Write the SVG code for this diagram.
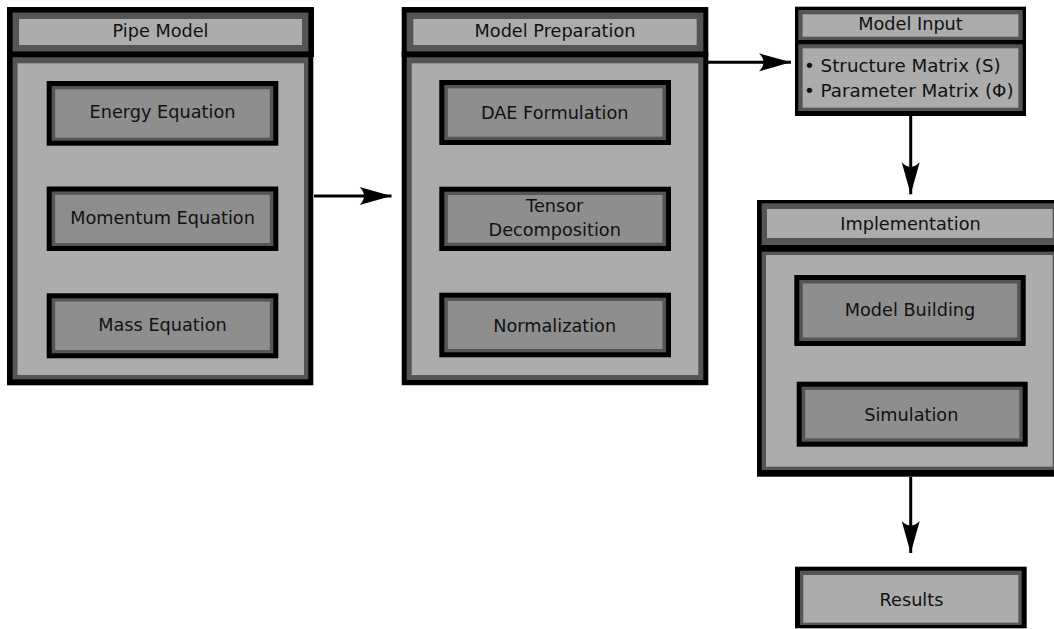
<svg xmlns="http://www.w3.org/2000/svg" width="1054" height="629" viewBox="0 0 1054 629">
<style>
.k{fill:#000}
.g{fill:#555}
.l{fill:#acacac}
.d{fill:#8e8e8e}
text{font-family:"DejaVu Sans","Liberation Sans",sans-serif;font-size:17.7px;fill:#111;text-anchor:middle}
.li{text-anchor:start;font-size:18.3px}
.cn{fill:none;stroke:#000;stroke-width:3}
</style>
<defs>
<marker id="ah" markerUnits="userSpaceOnUse" markerWidth="36" markerHeight="22" viewBox="-34 -11 36 22" refX="0" refY="0" orient="auto">
<path d="M0,0 L-32,-9 C-26,-3 -26,3 -32,9 Z" fill="#000"/>
</marker>
</defs>
<rect width="1054" height="629" fill="#fff"/>

<g id="pipe-model">
<rect class="k" x="7" y="7" width="307" height="50"/>
<rect class="g" x="12.6" y="12.6" width="295.8" height="39"/>
<rect class="l" x="19" y="19" width="283" height="26"/>
<rect class="k" x="7" y="51.7" width="306.3" height="333.6"/>
<rect class="g" x="12.6" y="57.3" width="295.7" height="322"/>
<rect class="l" x="17.5" y="63.3" width="286.5" height="311.7"/>
<text x="160.5" y="37">Pipe Model</text>
</g>
<g id="energy-equation">
<rect class="k" x="46.7" y="81" width="231.6" height="64.7"/>
<rect class="g" x="51.7" y="86" width="221.6" height="54.7"/>
<rect class="d" x="55.2" y="89.3" width="214.6" height="48.4"/>
<text x="162.5" y="118.3">Energy Equation</text>
</g>
<g id="momentum-equation">
<rect class="k" x="46.7" y="186.5" width="231.6" height="64.5"/>
<rect class="g" x="51.7" y="191.5" width="221.6" height="54.5"/>
<rect class="d" x="55.2" y="194.8" width="214.6" height="48.2"/>
<text x="162.5" y="223.5">Momentum Equation</text>
</g>
<g id="mass-equation">
<rect class="k" x="46.7" y="293.3" width="231.6" height="65"/>
<rect class="g" x="51.7" y="298.3" width="221.6" height="55"/>
<rect class="d" x="55.2" y="301.6" width="214.6" height="48.4"/>
<text x="162.5" y="330.7">Mass Equation</text>
</g>

<g id="model-preparation">
<rect class="k" x="401.7" y="7" width="306.6" height="50"/>
<rect class="g" x="406.7" y="12.6" width="296.6" height="39"/>
<rect class="l" x="413.3" y="19" width="283.4" height="26"/>
<rect class="k" x="401.7" y="51.7" width="306.6" height="333.5"/>
<rect class="g" x="406.7" y="57.3" width="296.6" height="322.7"/>
<rect class="l" x="411.7" y="63.3" width="286.6" height="311.7"/>
<text x="555" y="37">Model Preparation</text>
</g>
<g id="dae-formulation">
<rect class="k" x="439.3" y="80" width="231.7" height="65"/>
<rect class="g" x="444.3" y="85" width="221.7" height="55"/>
<rect class="d" x="447.8" y="88.3" width="214.7" height="48.4"/>
<text x="554.7" y="119.3">DAE Formulation</text>
</g>
<g id="tensor-decomposition">
<rect class="k" x="439.3" y="186.7" width="231.7" height="64.3"/>
<rect class="g" x="444.3" y="191.7" width="221.7" height="54.3"/>
<rect class="d" x="447.8" y="195" width="214.7" height="47.7"/>
<text x="554.7" y="211.7">Tensor</text>
<text x="554.7" y="235.7">Decomposition</text>
</g>
<g id="normalization">
<rect class="k" x="439.3" y="292.7" width="231.7" height="64.6"/>
<rect class="g" x="444.3" y="297.7" width="221.7" height="54.6"/>
<rect class="d" x="447.8" y="301" width="214.7" height="48"/>
<text x="554.7" y="332.3">Normalization</text>
</g>

<g id="model-input">
<rect class="k" x="795" y="6.7" width="231" height="37.6"/>
<rect class="g" x="798.3" y="10" width="224.4" height="31"/>
<rect class="l" x="802.6" y="14.3" width="215.8" height="22.4"/>
<rect class="k" x="795" y="40" width="231" height="76"/>
<rect class="g" x="798.3" y="44.3" width="224.4" height="66.7"/>
<rect class="l" x="802.7" y="48.3" width="215.6" height="59.4"/>
<text x="910.5" y="30">Model Input</text>
<text class="li" x="804" y="71.7">• Structure Matrix (S)</text>
<text class="li" x="804" y="96.7">• Parameter Matrix (Φ)</text>
</g>

<g id="implementation">
<rect class="k" x="757" y="200" width="310" height="51.7"/>
<rect class="g" x="761.7" y="203.3" width="300" height="41.7"/>
<rect class="l" x="767" y="209" width="285.7" height="29"/>
<rect class="k" x="757" y="245" width="310" height="231.7"/>
<rect class="g" x="761.7" y="251.7" width="300" height="218.3"/>
<rect class="l" x="766" y="255" width="286.7" height="211.7"/>
<text x="910.5" y="230">Implementation</text>
</g>
<g id="model-building">
<rect class="k" x="794.3" y="275" width="231.4" height="71"/>
<rect class="g" x="799.3" y="280" width="221.4" height="61"/>
<rect class="d" x="802.8" y="283.5" width="214.4" height="54"/>
<text x="910" y="315.5">Model Building</text>
</g>
<g id="simulation">
<rect class="k" x="796.7" y="381.7" width="231" height="65"/>
<rect class="g" x="801.7" y="386.7" width="221" height="55"/>
<rect class="d" x="805.2" y="390" width="214" height="48.4"/>
<text x="911.3" y="420.7">Simulation</text>
</g>

<g id="results">
<rect class="k" x="795" y="566.7" width="231.7" height="61.6"/>
<rect class="g" x="800" y="570.7" width="221.7" height="54.3"/>
<rect class="l" x="803.3" y="575" width="215" height="47.7"/>
<text x="911.5" y="605.7">Results</text>
</g>

<g id="connectors">
<path class="cn" d="M314,196 L391.5,196" marker-end="url(#ah)"/>
<path class="cn" d="M708,62.3 L791,62.3" marker-end="url(#ah)"/>
<path class="cn" d="M910.7,116 L910.7,194.3" marker-end="url(#ah)"/>
<path class="cn" d="M910.7,476.7 L910.7,553" marker-end="url(#ah)"/>
</g>
</svg>
